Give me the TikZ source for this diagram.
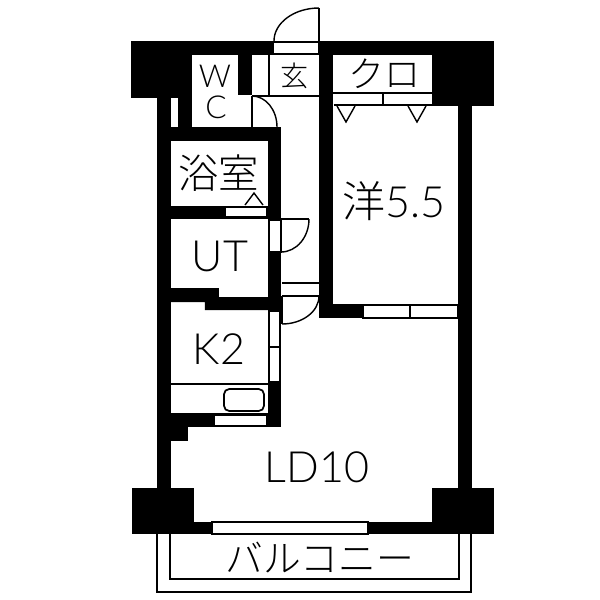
\documentclass[tikz,border=0pt]{standalone}
\usepackage{fontspec}
\setmainfont{Lato Light}
\newfontfamily\cjk{Noto Sans CJK JP Light}
\tikzset{
  wall/.style={fill=black,draw=none},
  thinline/.style={line width=0.8pt},
  frame/.style={draw=black,fill=white,line width=0.8pt},
  latinlabel/.style={font=\fontsize{#1}{#1}\selectfont,inner sep=0pt},
  kanalabel/.style={font=\cjk\fontsize{#1}{#1}\selectfont,inner sep=0pt}
}
\begin{document}
\begin{tikzpicture}[x=0.02cm,y=-0.02cm]
  \useasboundingbox (0,0) rectangle (600,600);
  % balcony
  \draw[thinline] (157,534) -- (157,592) -- (471,592) -- (471,534);
  \draw[thinline] (170,534) -- (170,579) -- (459,579) -- (459,534);
  % corner blocks
  \fill[wall] (131,41) rectangle (192,98);
  \fill[wall] (432,41) rectangle (494,106);
  \fill[wall] (132,488) rectangle (194,534);
  \fill[wall] (432,488) rectangle (494,534);
  % outer walls
  \fill[wall] (192,41) rectangle (274,55);
  \fill[wall] (319,41) rectangle (432,55);
  \fill[wall] (157,98) rectangle (171,488);
  \fill[wall] (458,106) rectangle (472,488);
  \fill[wall] (194,522) rectangle (212,534);
  \fill[wall] (368,522) rectangle (432,534);
  % inner walls
  \fill[wall] (178,98) rectangle (192,127);
  \fill[wall] (238,55) rectangle (252,95);
  \fill[wall] (171,127) rectangle (281,141);
  \fill[wall] (268,141) rectangle (281,219);
  \fill[wall] (171,206) rectangle (281,219);
  \fill[wall] (268,219) rectangle (281,310);
  \fill[wall] (171,288) -- (219,288) -- (219,297) -- (281,297) -- (281,310)
    -- (205,310) -- (205,302) -- (171,302) -- cycle;
  \fill[wall] (268,382) rectangle (281,427);
  \fill[wall] (171,414) rectangle (214,427);
  \fill[wall] (171,427) rectangle (188,441);
  \fill[wall] (319,55) rectangle (333,318);
  \fill[wall] (333,304) rectangle (363,318);
  % entrance
  \draw[thinline] (319,8) -- (319,55);
  \draw[thinline] (274,42) -- (319,42);
  \draw[thinline] (274,54) -- (319,54);
  \draw[thinline] (319,8) arc[start angle=270,end angle=180,x radius=45,y radius=33];
  \draw[thinline] (252,96) -- (319,96);
  \draw[thinline] (269,55) -- (269,96);
  % WC door
  \fill[white] (239,96) rectangle (252,127);
  \draw[thinline] (252,96) -- (252,127);
  \draw[thinline] (252,96) arc[start angle=270,end angle=360,x radius=25,y radius=31];
  % UT door
  \path[frame] (269,220) rectangle (281,252);
  \draw[thinline] (281,219) -- (309,219);
  \draw[thinline] (309,219) arc[start angle=0,end angle=90,x radius=28,y radius=33];
  % hall door
  \draw[thinline] (282,283) -- (319,283);
  \draw[thinline] (282,296) -- (319,296);
  \draw[thinline] (282,296) -- (282,324);
  \draw[thinline] (319,296) arc[start angle=0,end angle=90,x radius=37,y radius=28];
  % windows
  \path[frame] (269,311) rectangle (280,382);
  \draw[thinline] (269,347) -- (280,347);
  \path[frame] (363,305) rectangle (458,318);
  \draw[thinline] (410,305) -- (410,318);
  \path[frame] (212,522) rectangle (368,534);
  % closet doors
  \draw[thinline] (333,93) -- (432,93);
  \draw[thinline] (334,105) -- (432,105);
  \draw[thinline] (383,93) -- (383,105);
  \foreach \tx in {337,408} {
    \draw[thinline,line join=miter] (\tx,106) -- (\tx+9,122) -- (\tx+18,106);
  }
  % bath
  \path[frame] (225,207) rectangle (267,217);
  \draw[thinline] (245,205) -- (254,193) -- (263,205);
  % kitchen
  \draw[thinline] (171,384) -- (268,384);
  \draw[thinline] (171,414) -- (268,414);
  \path[frame] (214,415) rectangle (267,426);
  \draw[line width=1pt,rounded corners=3pt] (224,389) rectangle (264,411);
  % labels
  \node[latinlabel=18] (wlabel) at (215,76) {W};
  \node[latinlabel=18] (clabel) at (216,107) {C};
  \node[kanalabel=16] (genkan) at (295,76) {玄};
  \node[kanalabel=20.5] (closet) at (385,74) {クロ};
  \node[kanalabel=23] (bath) at (219,173) {浴室};
  \node[latinlabel=24.5] (youroom) at (394,201) {{\cjk 洋}5.5};
  \node[latinlabel=24.5] (utroom) at (220,256) {UT};
  \node[latinlabel=24.5] (kitchen) at (219,349) {K2};
  \node[latinlabel=24.5] (living) at (317,467) {LD10};
  \node[kanalabel=21.5] (balcony) at (320,558) {バルコニー};
\end{tikzpicture}
\end{document}
